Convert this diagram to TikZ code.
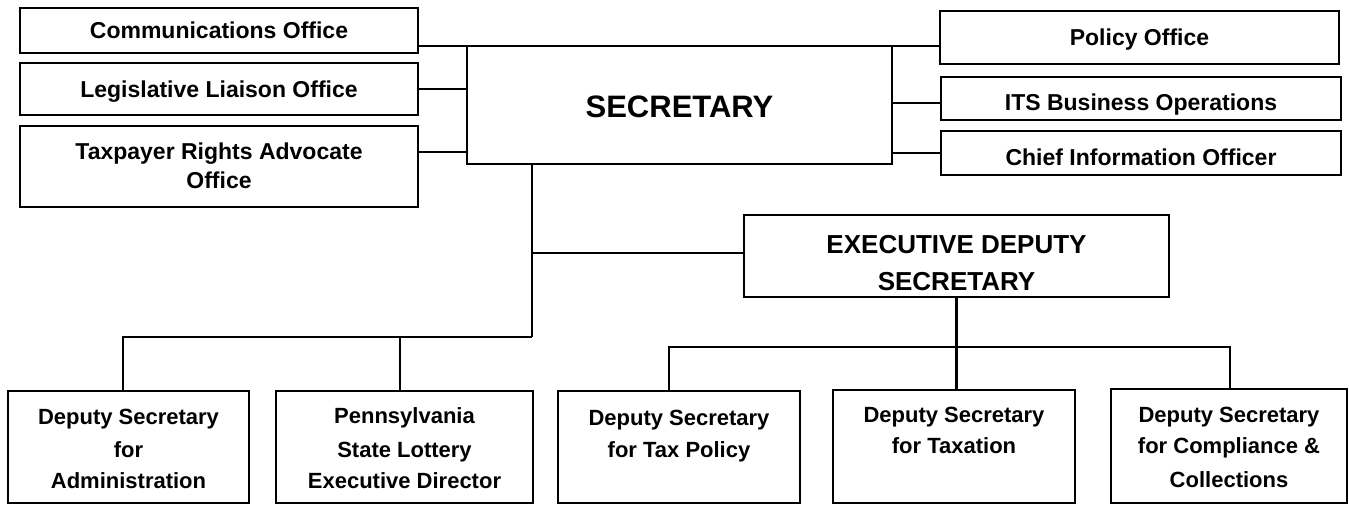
\documentclass[tikz,border=0pt]{standalone}
\usepackage{fontspec}
\setmainfont{Liberation Sans}
\newcommand\mybox[5]{\node[box, minimum width={(#4-#2)*1pt}, minimum height={(#5-#3)*1pt}] (#1) at ({(#2+#4)/2},{(#3+#5)/2}) {};}
\begin{document}
\begin{tikzpicture}[x=1pt,y=-1pt,
  box/.style={draw, line width=1.8pt, inner sep=0pt, outer sep=0pt},
  heavy/.style={line width=2.4pt},
  lite/.style={line width=1.5pt},
  tOff/.style={font=\fontsize{23}{28}\selectfont\bfseries, inner sep=0pt, anchor=base},
  tLow/.style={font=\fontsize{22}{26}\selectfont\bfseries, inner sep=0pt, anchor=base},
  tEds/.style={font=\fontsize{26}{30}\selectfont\bfseries, inner sep=0pt, anchor=base},
  tSec/.style={font=\fontsize{31}{36}\selectfont\bfseries, inner sep=0pt, anchor=base}]
\fill[white] (0,0) rectangle (1349,504);
\useasboundingbox (0,0) rectangle (1349,504);
% boxes
\mybox{comm}{20}{8}{418}{53}
\mybox{legis}{20}{63}{418}{115}
\mybox{tax}{20}{126}{418}{207}
\mybox{sec}{467}{46}{892}{164}
\mybox{policy}{940}{11}{1339}{64}
\mybox{its}{941}{77}{1341}{120}
\mybox{chief}{941}{131}{1341}{175}
\mybox{eds}{744}{215}{1169}{297}
\mybox{admin}{8}{391}{249}{503}
\mybox{penn}{276}{391}{533}{503}
\mybox{taxpol}{558}{391}{800}{503}
\mybox{taxation}{833}{390}{1075}{503}
\mybox{comp}{1111}{389}{1347}{503}
% texts
\node[tOff] (commT) at (219,38) {Communications Office};
\node[tOff] (legisT) at (219,97) {Legislative Liaison Office};
\node[tOff] (taxT1) at (219,159) {Taxpayer Rights Advocate};
\node[tOff] (taxT2) at (219,188) {Office};
\node[tSec] (secT) at (679.5,117) {SECRETARY};
\node[tOff] (policyT) at (1139.5,45) {Policy Office};
\node[tOff] (itsT) at (1141,110) {ITS Business Operations};
\node[tOff] (chiefT) at (1141,165) {Chief Information Officer};
\node[tEds] (edsT1) at (956.5,253) {EXECUTIVE DEPUTY};
\node[tEds] (edsT2) at (956.5,290) {SECRETARY};
\node[tLow] (adminT1) at (128.5,424) {Deputy Secretary};
\node[tLow] (adminT2) at (128.5,457) {for};
\node[tLow] (adminT3) at (128.5,488) {Administration};
\node[tLow] (pennT1) at (404.5,423) {Pennsylvania};
\node[tLow] (pennT2) at (404.5,457) {State Lottery};
\node[tLow] (pennT3) at (404.5,488) {Executive Director};
\node[tLow] (taxpolT1) at (679,425) {Deputy Secretary};
\node[tLow] (taxpolT2) at (679,457) {for Tax Policy};
\node[tLow] (taxationT1) at (954,422) {Deputy Secretary};
\node[tLow] (taxationT2) at (954,453) {for Taxation};
\node[tLow] (compT1) at (1229,422) {Deputy Secretary};
\node[tLow] (compT2) at (1229,453) {for Compliance \&};
\node[tLow] (compT3) at (1229,487) {Collections};
% connectors
\coordinate (taxj) at (418,152);
\coordinate (itsj) at (941,103);
\coordinate (j1) at (532,337);
\coordinate (j2) at (532,253);
\coordinate (j3) at (123,337);
\coordinate (j4) at (400,337);
\coordinate (j5) at (669,347);
\coordinate (j6) at (1230,347);
\draw[lite] (sec.north west -| comm.east) -- (sec.north west);
\draw[heavy] (legis.east) -- (legis.east -| sec.west);
\draw[heavy] (taxj) -- (taxj -| sec.west);
\draw[lite] (sec.north east) -- (sec.north east -| policy.west);
\draw[heavy] (itsj -| sec.east) -- (itsj);
\draw[lite] (chief.west -| sec.east) -- (chief.west);
\draw[heavy] (j1 |- sec.south) -- (j1);
\draw[lite] (j2) -- (j2 -| eds.west);
\draw[lite] (j1) -- (j3) -- (j3 |- admin.north);
\draw[lite] (j4) -- (j4 |- penn.north);
\draw[heavy] (eds.south) -- (eds.south |- taxation.north);
\draw[lite] (j5 |- taxpol.north) -- (j5) -- (j6) -- (j6 |- comp.north);
\end{tikzpicture}
\end{document}
